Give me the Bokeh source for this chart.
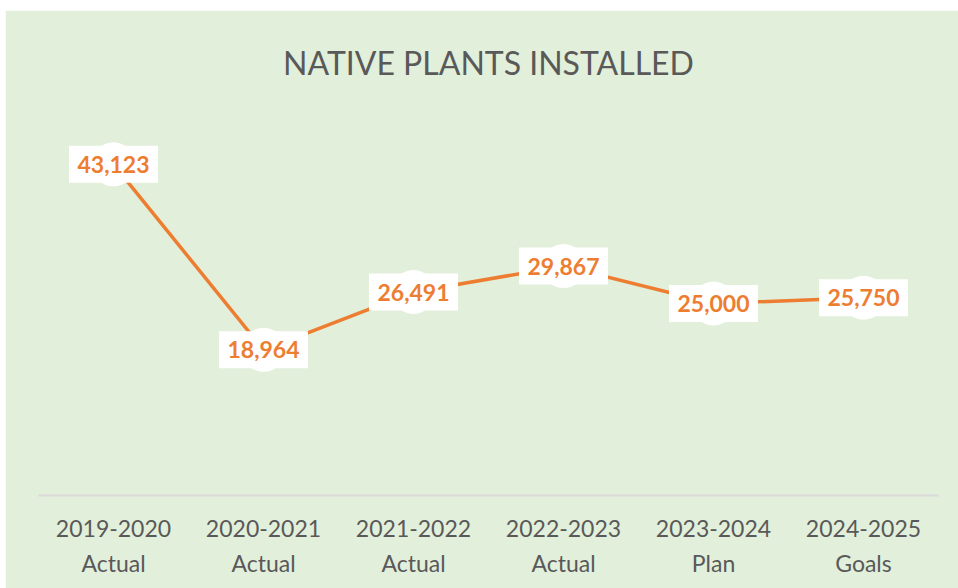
from bokeh.plotting import figure
from bokeh.models import ColumnDataSource, Range1d, FactorRange
from bokeh.core.properties import value
from bokeh.embed import file_html
from bokeh.resources import INLINE

periods = ["2019-2020", "2020-2021", "2021-2022", "2022-2023", "2023-2024", "2024-2025"]
kinds = ["Actual", "Actual", "Actual", "Actual", "Plan", "Goals"]
plants = [43123, 18964, 26491, 29867, 25000, 25750]
title_text = "NATIVE PLANTS INSTALLED"

cats = [f"{a}\n{b}" for a, b in zip(periods, kinds)]
labels = [f"{v:,}" for v in plants]

BG = "#E2EFDA"
ORANGE = "#ED7D31"
GRAY = "#595959"

src = ColumnDataSource(dict(x=cats, y=plants, lab=labels))

p = figure(width=953, height=578, x_range=FactorRange(*cats), y_range=Range1d(0, 50000),
           output_backend="svg", toolbar_location=None,
           min_border_left=33, min_border_right=20, min_border_top=0, min_border_bottom=93)
p.margin = (10, 0, 0, 5)
p.background_fill_color = BG
p.border_fill_color = BG
p.outline_line_color = BG
p.outline_line_width = 2
p.grid.visible = False
p.yaxis.visible = False
p.x_range.range_padding = 0
p.x_range.factor_padding = 0

p.title.text = title_text
p.title.align = "center"
p.title.text_font = "Lato"
p.title.text_font_style = "normal"
p.title.text_font_size = "32px"
p.title.text_color = GRAY
p.title.standoff = 60

xa = p.xaxis[0]
xa.axis_line_color = "#D9D9D9"
xa.axis_line_width = 2
xa.major_tick_line_color = None
xa.minor_tick_line_color = None
xa.major_label_text_font = "Lato"
xa.major_label_text_font_size = "23px"
xa.major_label_text_color = GRAY
xa.major_label_text_line_height = 1.25
xa.major_label_standoff = 12

p.line("x", "y", source=src, line_color=ORANGE, line_width=3.5)
p.scatter("x", "y", source=src, size=44, fill_color="white", line_color=None)
p.rect("x", "y", width=89, height=37, width_units="screen", height_units="screen",
       source=src, fill_color="white", line_color=None)
p.text("x", "y", text="lab", source=src, text_align="center", text_baseline="middle",
       text_font=value("Lato"), text_font_style="bold", text_font_size="23px",
       text_color=ORANGE)

open("out.html", "w").write(file_html(p, INLINE))
